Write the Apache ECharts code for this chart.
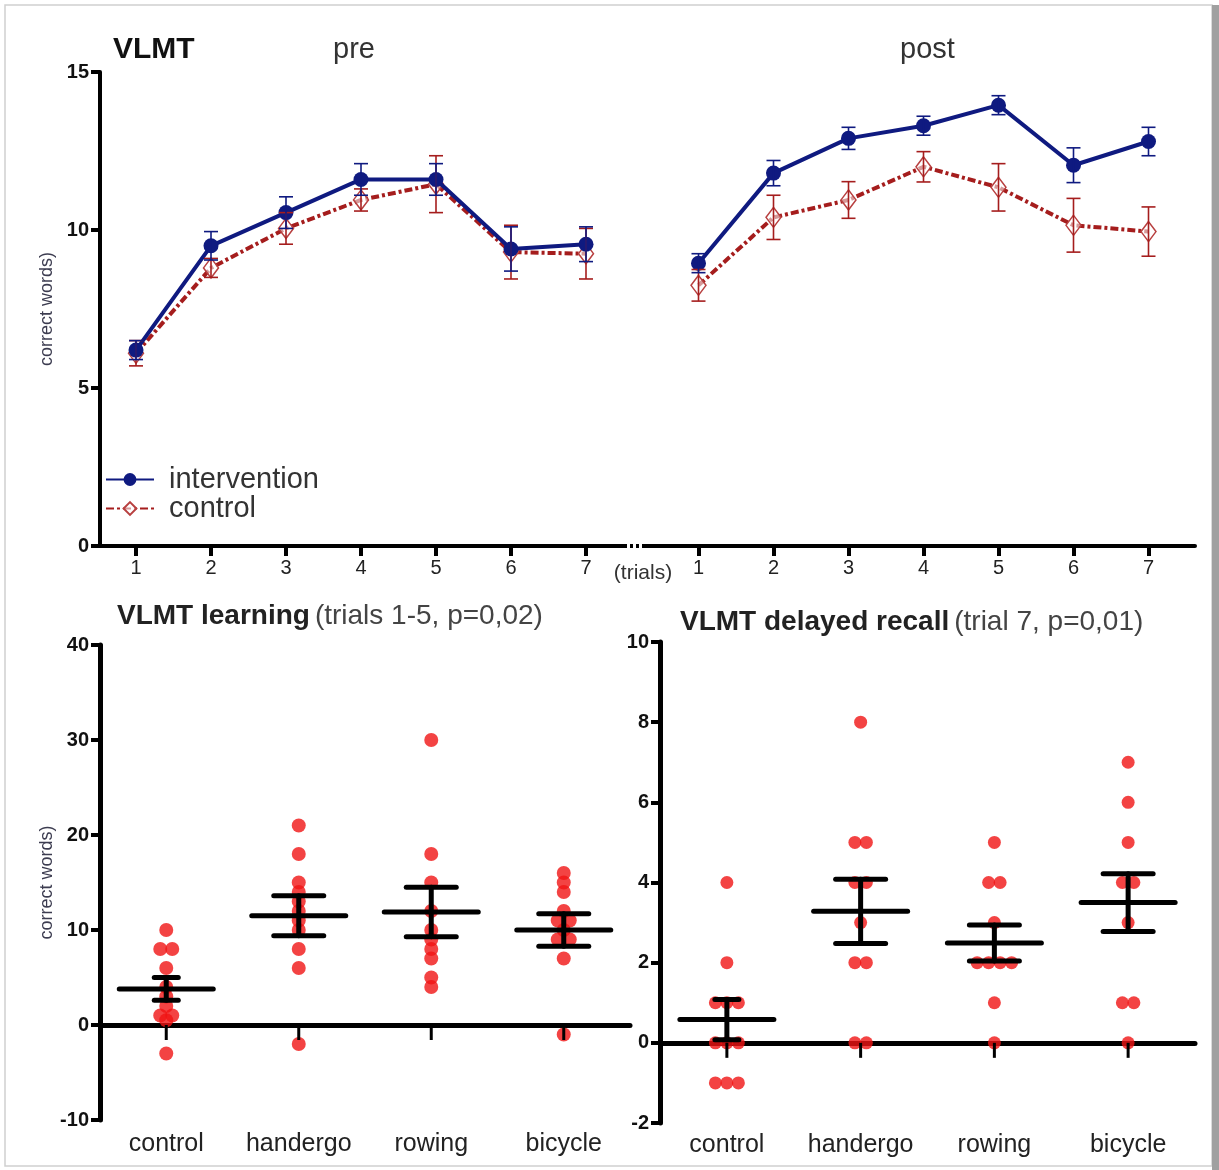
<!DOCTYPE html>
<html>
<head>
<meta charset="utf-8">
<title>VLMT</title>
<script src="https://cdn.jsdelivr.net/npm/echarts@6.0.0/dist/echarts.min.js"></script>
<style>
  html, body { margin: 0; padding: 0; background: #fff; }
  #chart { width: 1219px; height: 1170px; }
</style>
</head>
<body>
<div id="chart"></div>
<script>
// VLMT, correct words per trial (mean ± SEM)
const trials = [1, 2, 3, 4, 5, 6, 7];
const interventionPre = [6.2, 9.5, 10.55, 11.6, 11.6, 9.4, 9.55];
const interventionPreSem = [0.3, 0.45, 0.5, 0.5, 0.5, 0.7, 0.55];
const controlPre = [6.1, 8.8, 10.05, 10.95, 11.45, 9.3, 9.25];
const controlPreSem = [0.4, 0.3, 0.5, 0.35, 0.9, 0.85, 0.8];
const interventionPost = [8.95, 11.8, 12.9, 13.3, 13.95, 12.05, 12.8];
const interventionPostSem = [0.3, 0.4, 0.35, 0.3, 0.3, 0.55, 0.45];
const controlPost = [8.25, 10.4, 10.95, 12.0, 11.35, 10.15, 9.95];
const controlPostSem = [0.5, 0.7, 0.58, 0.48, 0.75, 0.85, 0.78];

// change scores per subject
const groups = ['control', 'handergo', 'rowing', 'bicycle'];
const learning = [
  [10, 8, 8, 6, 4, 3, 2, 1, 1, 0.5, -3],
  [21, 18, 15, 14, 13, 12, 11, 10, 8, 6, -2],
  [30, 18, 15, 12, 10, 9, 8, 7, 5, 4],
  [16, 15, 14, 12, 11, 11, 10, 9, 9, 7, -1]
];
const learningMean = [3.8, 11.5, 11.9, 10.0];
const learningSem = [1.2, 2.1, 2.6, 1.7];
const recall = [
  [4, 2, 1, 1, 1, 0, 0, 0, -1, -1, -1],
  [8, 5, 5, 4, 4, 3, 2, 2, 0, 0],
  [5, 4, 4, 3, 2, 2, 2, 2, 1, 0],
  [7, 6, 5, 4, 4, 3, 1, 1, 0]
];
const recallMean = [0.58, 3.28, 2.49, 3.5];
const recallSem = [0.5, 0.8, 0.45, 0.72];

const FONT = 'Liberation Sans, Arial, sans-serif';
const BLUE = '#0f1a80';
const RED = '#a51d1d';
const postShift = 7.5; // post block sits after the pre block on the same axis
const postX = trials.map(t => t + postShift);
const tickX = trials.concat(postX);

let myEcharts = echarts.init(document.getElementById('chart'))

function trialLine(name, xs, ys, isControl) {
  return {
    name: name,
    type: 'line',
    xAxisIndex: 0,
    yAxisIndex: 0,
    data: xs.map((x, i) => [x, ys[i]]),
    symbol: isControl ? 'diamond' : 'circle',
    symbolSize: isControl ? [15, 20] : 15,
    lineStyle: isControl
      ? { color: RED, width: 4, type: [8, 3, 3, 3] }
      : { color: BLUE, width: 4 },
    itemStyle: isControl
      ? { color: 'rgba(255,255,255,0.55)', borderColor: '#b84040', borderWidth: 1.5 }
      : { color: BLUE },
    z: isControl ? 3 : 4,
    silent: true
  }
}

function errorBars(xs, means, sems, color) {
  return {
    type: 'custom',
    xAxisIndex: 0,
    yAxisIndex: 0,
    data: xs.map((x, i) => [x, means[i] - sems[i], means[i] + sems[i]]),
    renderItem(params, api) {
      const lo = api.coord([api.value(0), api.value(1)])
      const hi = api.coord([api.value(0), api.value(2)])
      const w = 7
      const st = { stroke: color, lineWidth: 1.6 }
      return {
        type: 'group',
        children: [
          { type: 'line', shape: { x1: lo[0], y1: lo[1], x2: hi[0], y2: hi[1] }, style: st },
          { type: 'line', shape: { x1: lo[0] - w, y1: lo[1], x2: lo[0] + w, y2: lo[1] }, style: st },
          { type: 'line', shape: { x1: hi[0] - w, y1: hi[1], x2: hi[0] + w, y2: hi[1] }, style: st }
        ]
      }
    },
    z: 5,
    silent: true
  }
}

// dots; equal values are placed side by side
function dots(sets, axisIndex, size, gap) {
  const data = []
  sets.forEach((vals, g) => {
    const counts = {}
    vals.forEach(v => { counts[v] = (counts[v] || 0) + 1 })
    const seen = {}
    vals.forEach(v => {
      const k = seen[v] = (seen[v] || 0) + 1
      const dx = (k - 1 - (counts[v] - 1) / 2) * gap
      data.push({ value: [g, v], symbolOffset: [dx, 0] })
    })
  })
  return {
    type: 'scatter',
    xAxisIndex: axisIndex,
    yAxisIndex: axisIndex,
    data: data,
    symbolSize: size,
    itemStyle: { color: '#f01414' },
    z: 2,
    silent: true
  }
}

// mean line, SEM whiskers, and the group tick below the zero line
function meanSem(means, sems, axisIndex) {
  const capHalf = [12, 25, 25, 25]
  return {
    type: 'custom',
    xAxisIndex: axisIndex,
    yAxisIndex: axisIndex,
    data: means.map((m, i) => [i, m, m - sems[i], m + sems[i]]),
    renderItem(params, api) {
      const c = api.coord([api.value(0), api.value(1)])
      const lo = api.coord([api.value(0), api.value(2)])
      const hi = api.coord([api.value(0), api.value(3)])
      const zero = api.coord([api.value(0), 0])
      const cap = capHalf[params.dataIndex]
      const st = { stroke: '#000', lineWidth: 5, lineCap: 'round' }
      return {
        type: 'group',
        children: [
          { type: 'line', shape: { x1: zero[0], y1: zero[1], x2: zero[0], y2: zero[1] + 15 }, style: { stroke: '#000', lineWidth: 3 } },
          { type: 'line', shape: { x1: c[0] - 47, y1: c[1], x2: c[0] + 47, y2: c[1] }, style: st },
          { type: 'line', shape: { x1: lo[0], y1: lo[1], x2: hi[0], y2: hi[1] }, style: st },
          { type: 'line', shape: { x1: lo[0] - cap, y1: lo[1], x2: lo[0] + cap, y2: lo[1] }, style: st },
          { type: 'line', shape: { x1: hi[0] - cap, y1: hi[1], x2: hi[0] + cap, y2: hi[1] }, style: st }
        ]
      }
    },
    z: 6,
    silent: true
  }
}

function valueY(gridIndex, min, max, interval, withName) {
  return {
    gridIndex: gridIndex,
    type: 'value',
    min: min,
    max: max,
    interval: interval,
    axisLine: { show: true, onZero: false, lineStyle: { color: '#000', width: gridIndex === 0 ? 4 : 5 } },
    axisTick: { show: true, length: 9, lineStyle: { color: '#000', width: 4 } },
    axisLabel: { fontFamily: FONT, fontWeight: 'bold', fontSize: 20, color: '#111', margin: 11 },
    splitLine: { show: false },
    name: withName ? 'correct words)' : '',
    nameLocation: 'middle',
    nameRotate: 90,
    nameGap: 44,
    nameTextStyle: { fontFamily: FONT, fontSize: 18, color: '#3c3c50' }
  }
}

// labels sit under the grid bottom, the line on the zero line
function groupX(gridIndex, labelMargin) {
  return {
    gridIndex: gridIndex,
    type: 'category',
    data: groups,
    axisLine: { onZero: true, lineStyle: { color: '#000', width: 5 } },
    axisTick: { show: false },
    axisLabel: { interval: 0, fontFamily: FONT, fontSize: 25, color: '#222', margin: labelMargin }
  }
}

const boldPart = { fontFamily: FONT, fontSize: 28, fontWeight: 'bold', color: '#222' }
const plainPart = { fontFamily: FONT, fontSize: 28, fontWeight: 'normal', color: '#444' }

let option = {
  animation: false,
  backgroundColor: '#fff',
  textStyle: { fontFamily: FONT },
  title: [
    { text: 'VLMT', left: 113, top: 35, padding: 0, textStyle: { fontFamily: FONT, fontSize: 30, fontWeight: 'bold', color: '#111' } },
    { text: 'pre', left: 333, top: 35, padding: 0, textStyle: { fontFamily: FONT, fontSize: 29, fontWeight: 'normal', color: '#333' } },
    { text: 'post', left: 900, top: 35, padding: 0, textStyle: { fontFamily: FONT, fontSize: 29, fontWeight: 'normal', color: '#333' } },
    {
      text: '{b|VLMT learning} {n|(trials 1-5, p=0,02)}', left: 117, top: 602, padding: 0,
      textStyle: { fontWeight: 'normal', rich: { b: boldPart, n: plainPart } }
    },
    {
      text: '{b|VLMT delayed recall} {n|(trial 7, p=0,01)}', left: 680, top: 608, padding: 0,
      textStyle: { fontWeight: 'normal', rich: { b: boldPart, n: plainPart } }
    }
  ],
  legend: {
    orient: 'vertical',
    left: 105,
    top: 465,
    padding: 0,
    itemGap: 0,
    itemWidth: 48,
    itemHeight: 16,
    data: ['intervention', 'control'],
    textStyle: { fontFamily: FONT, fontSize: 29, color: '#333', lineHeight: 27, padding: [0, 0, 0, 10] }
  },
  grid: [
    { left: 100, top: 72, width: 1095, height: 474, outerBoundsMode: 'none', containLabel: false },
    { left: 100, top: 645, width: 530, height: 475, outerBoundsMode: 'none', containLabel: false },
    { left: 660, top: 642, width: 535, height: 481, outerBoundsMode: 'none', containLabel: false }
  ],
  xAxis: [
    {
      gridIndex: 0,
      type: 'value',
      min: 0.52,
      max: 15.12,
      axisLine: { lineStyle: { color: '#000', width: 4 } },
      splitLine: { show: false },
      axisTick: { show: true, customValues: tickX, length: 10, lineStyle: { color: '#000', width: 4 } },
      axisLabel: {
        customValues: tickX,
        formatter: v => String(v > 7.5 ? Math.round(v - postShift) : Math.round(v)),
        fontFamily: FONT, fontSize: 20, color: '#222', margin: 12
      }
    },
    groupX(1, 12),
    groupX(2, 10)
  ],
  yAxis: [
    valueY(0, 0, 15, 5, true),
    valueY(1, -10, 40, 10, true),
    valueY(2, -2, 10, 2, false)
  ],
  graphic: [
    { type: 'rect', shape: { x: 5, y: 5, width: 1207, height: 1161 }, style: { fill: 'none', stroke: '#d0d0d0', lineWidth: 1.5 }, silent: true },
    { type: 'rect', shape: { x: 1212, y: 5, width: 7, height: 1165 }, style: { fill: '#a0a0a0' }, silent: true },
    { type: 'rect', shape: { x: 624, y: 541, width: 18, height: 10 }, style: { fill: '#fff' }, z: 100, silent: true },
    { type: 'line', shape: { x1: 624, y1: 546, x2: 642, y2: 546 }, style: { stroke: '#000', lineWidth: 4, lineDash: [3, 3] }, z: 101, silent: true },
    { type: 'text', x: 643, y: 573, style: { text: '(trials)', fontFamily: FONT, fontSize: 21, fill: '#333', align: 'center', verticalAlign: 'middle' }, z: 100, silent: true }
  ],
  series: [
    errorBars(trials, controlPre, controlPreSem, RED),
    errorBars(postX, controlPost, controlPostSem, RED),
    errorBars(trials, interventionPre, interventionPreSem, BLUE),
    errorBars(postX, interventionPost, interventionPostSem, BLUE),
    trialLine('control', trials, controlPre, true),
    trialLine('control', postX, controlPost, true),
    trialLine('intervention', trials, interventionPre, false),
    trialLine('intervention', postX, interventionPost, false),
    dots(learning, 1, 14, 12),
    meanSem(learningMean, learningSem, 1),
    dots(recall, 2, 13, 11.5),
    meanSem(recallMean, recallSem, 2)
  ]
};

option && myEcharts.setOption(option)
</script>
</body>
</html>
